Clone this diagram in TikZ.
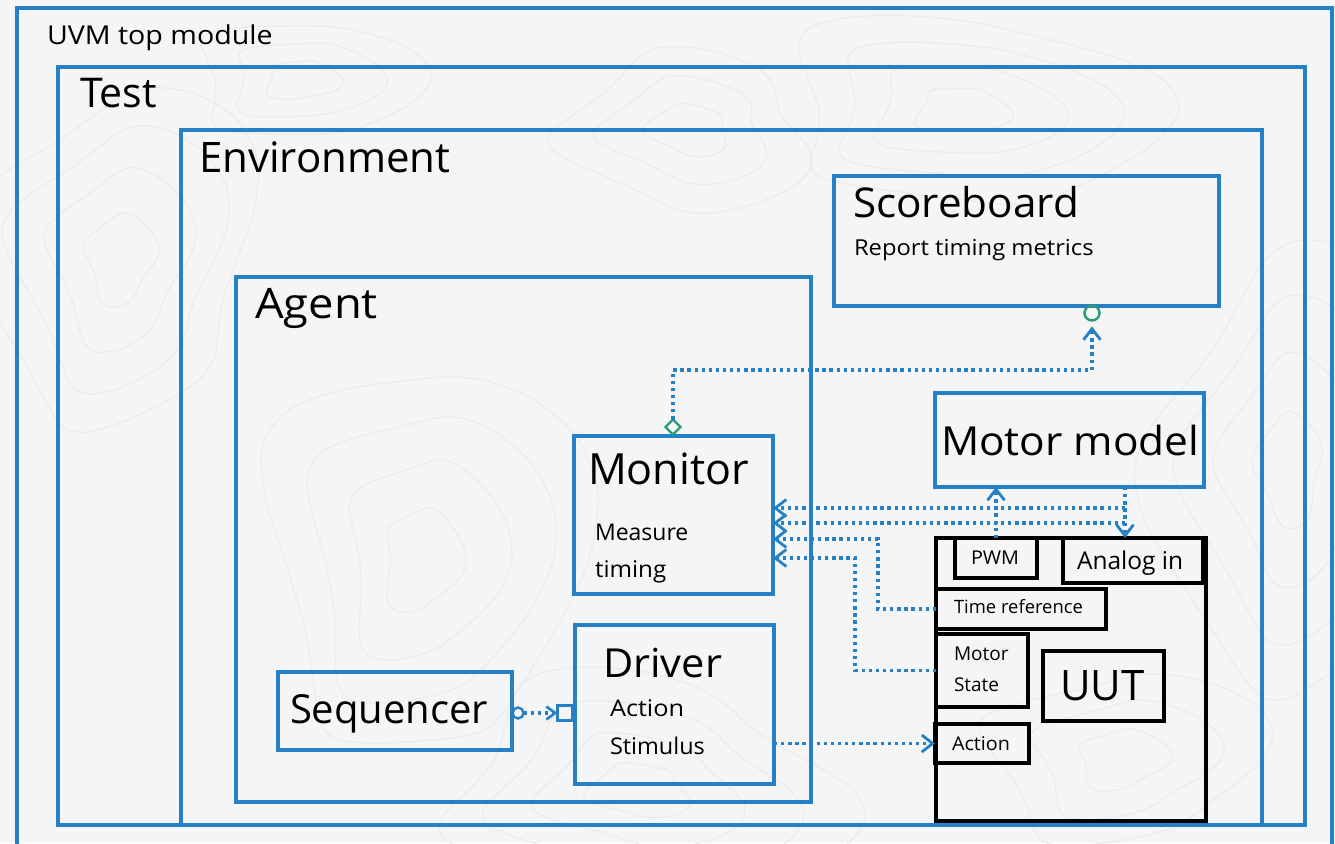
\documentclass[tikz,border=0pt]{standalone}
\usepackage{fontspec}
\setmainfont{Open Sans}
\usetikzlibrary{arrows.meta,shapes.geometric}
\definecolor{uvmblue}{HTML}{2580C6}
\definecolor{portgreen}{HTML}{2A9A78}
\definecolor{paper}{HTML}{F5F5F5}
\definecolor{contourgray}{HTML}{EBEBEB}
% font size and horizontal stretch for a label
\newcommand{\fsz}[2][1]{\addfontfeatures{FakeStretch=#1}\fontsize{#2pt}{#2pt}\selectfont}
% a family of wobbly concentric loops for the paper texture
\newcommand{\contourset}[6]{%
  \foreach \k in {1,...,#5}{%
    \draw[contour] plot[smooth cycle, domain=0:345, samples=24]
      ({#1 + \k*#3*(1+0.22*sin(3*\x+#6+20*\k))*cos(\x)}, {#2 + \k*#4*(1+0.18*cos(2*\x+#6-15*\k))*sin(\x)});
  }}
\tikzset{
  contour/.style={draw=contourgray, line width=1.1pt},
  bluebox/.style={draw=uvmblue, line width=3.1pt, inner sep=0pt, outer sep=0pt, anchor=north west},
  blackbox/.style={draw=black, line width=3.2pt, inner sep=0pt, outer sep=0pt, anchor=north west},
  lbl/.style={anchor=base west, inner sep=0pt, outer sep=0pt, text=black},
  dotline/.style={draw=uvmblue, line width=3.3pt, dash pattern=on 3.3pt off 3.8pt},
  barb/.style={-{Straight Barb[length=11pt,width=17pt,line width=2.8pt]}},
  smallbarb/.style={-{Straight Barb[length=9pt,width=13pt,line width=2.6pt]}}
}
\begin{document}
\begin{tikzpicture}[x=1pt,y=-1pt]
% page and background
\useasboundingbox (0,0) rectangle (1335,843);
\fill[paper] (0,0) rectangle (1335,843);
\begin{scope}
  \clip (0,0) rectangle (1335,843);
  \contourset{960}{110}{45}{26}{4}{20}
  \contourset{420}{560}{38}{55}{4}{70}
  \contourset{120}{260}{34}{42}{4}{140}
  \contourset{1290}{470}{32}{50}{4}{200}
  \contourset{690}{130}{40}{24}{3}{260}
  \contourset{640}{790}{48}{28}{4}{310}
  \contourset{1120}{760}{44}{30}{3}{100}
  \contourset{300}{80}{36}{22}{3}{45}
\end{scope}

% nested containers
\node[bluebox, minimum width=1315pt, minimum height=852pt] (top) at (17,8) {};
\node[bluebox, minimum width=1247pt, minimum height=758pt] (test) at (58,67) {};
\node[bluebox, minimum width=1081pt, minimum height=695pt] (env) at (181,130) {};
\node[bluebox, minimum width=575pt, minimum height=525pt] (agent) at (236,277) {};

\node[lbl] (toplbl) at (47,45) {\fsz[1.1]{26}UVM top module};
\node[lbl] (testlbl) at (80,107) {\fsz{41}Test};
\node[lbl] (envlbl) at (199,172) {\fsz{42}Environment};
\node[lbl] (agentlbl) at (255,318) {\fsz[1.08]{42}Agent};

% scoreboard
\node[bluebox, minimum width=385pt, minimum height=130pt] (score) at (834,176) {};
\node[lbl] (scorelbl) at (853,217) {\fsz[1.03]{41}Scoreboard};
\node[lbl] (scoretxt) at (854,255) {\fsz[1.08]{22}Report timing metrics};

% motor model
\node[bluebox, minimum width=269pt, minimum height=94pt] (motor) at (935,393) {};
\node[lbl] (motorlbl) at (941,455) {\fsz[1.06]{40}Motor model};

% monitor
\node[bluebox, minimum width=199pt, minimum height=158pt] (monitor) at (574,436) {};
\node[lbl] (monlbl) at (588,484) {\fsz{43}Monitor};
\node[lbl] (montxta) at (595,540) {\fsz{23}Measure};
\node[lbl] (montxtb) at (595,577) {\fsz[1.05]{23}timing};

% driver
\node[bluebox, minimum width=199pt, minimum height=159pt] (driver) at (575,625) {};
\node[lbl] (drvlbl) at (603,677) {\fsz[1.04]{40}Driver};
\node[lbl] (drvtxta) at (610,716) {\fsz[1.1]{23}Action};
\node[lbl] (drvtxtb) at (610,754) {\fsz[1.02]{23}Stimulus};

% sequencer
\node[bluebox, minimum width=234pt, minimum height=78pt] (seq) at (278,672) {};
\node[lbl] (seqlbl) at (290,723) {\fsz{40}Sequencer};

% unit under test with its ports
\node[blackbox, minimum width=270pt, minimum height=283pt] (uut) at (936,538) {};
\node[blackbox, minimum width=82pt, minimum height=40pt] (pwm) at (955,538) {};
\node[blackbox, minimum width=140pt, minimum height=45pt] (analog) at (1063,538) {};
\node[blackbox, minimum width=170pt, minimum height=40pt] (timeref) at (936,589) {};
\node[blackbox, minimum width=92pt, minimum height=73pt] (mstate) at (936,634) {};
\node[blackbox, minimum width=121pt, minimum height=70pt] (uutcore) at (1043,651) {};
\node[blackbox, minimum width=94pt, minimum height=39pt] (action) at (935,724) {};

\node[lbl] (pwmlbl) at (971,564) {\fsz[1.04]{19}PWM};
\node[lbl] (analoglbl) at (1077,569) {\fsz{24.5}Analog in};
\node[lbl] (timereflbl) at (954,613) {\fsz{18.4}Time reference};
\node[lbl] (mstatea) at (954,660) {\fsz{19}Motor};
\node[lbl] (mstateb) at (954,691) {\fsz{19}State};
\node[lbl] (uutlbl) at (1060,700) {\fsz{42}UUT};
\node[lbl] (actionlbl) at (952,750) {\fsz[1.04]{19}Action};

% ports
\node[diamond, draw=portgreen, fill=paper, line width=2.2pt, minimum width=15pt, minimum height=15pt, inner sep=0pt, outer sep=0pt] (mondia) at (673,427) {};
\node[circle, draw=portgreen, line width=2.4pt, minimum size=15pt, inner sep=0pt, outer sep=0pt] (scoreport) at (1092,313) {};
\node[circle, draw=uvmblue, line width=2.4pt, minimum size=11pt, inner sep=0pt, outer sep=0pt] (seqport) at (518,713) {};
\node[rectangle, draw=uvmblue, line width=2.6pt, minimum size=15pt, inner sep=0pt, outer sep=0pt] (drvport) at (565,713) {};

% routing points
\coordinate (bus) at (0,370);
\coordinate (tap) at (1125,0);
\coordinate (h1) at (0,508);
\coordinate (h2) at (0,523);
\coordinate (j3) at (878,539);
\coordinate (j4) at (855,558);

% connectors
\draw[dotline, barb, shorten >=6pt] (mondia.north) -- (mondia.north |- bus) -| (scoreport.south);
\draw[dotline, barb] (pwm.north) -- (pwm.north |- motor.south);
\draw[dotline, barb] (motor.south -| tap) -- (analog.north -| tap);
\draw[dotline, barb] (tap |- h1) -- (monitor.east |- h1);
\draw[dotline, barb] (tap |- h2) -- (monitor.east |- h2);
\draw[dotline, barb] (timeref.west) -| (j3) -- (monitor.east |- j3);
\draw[dotline, barb] (mstate.west) -| (j4) -- (monitor.east |- j4);
\draw[dotline, barb] (driver.east |- action.west) -- (action.west);
\draw[dotline, smallbarb] (seqport.east) -- (drvport.west);
\end{tikzpicture}
\end{document}
